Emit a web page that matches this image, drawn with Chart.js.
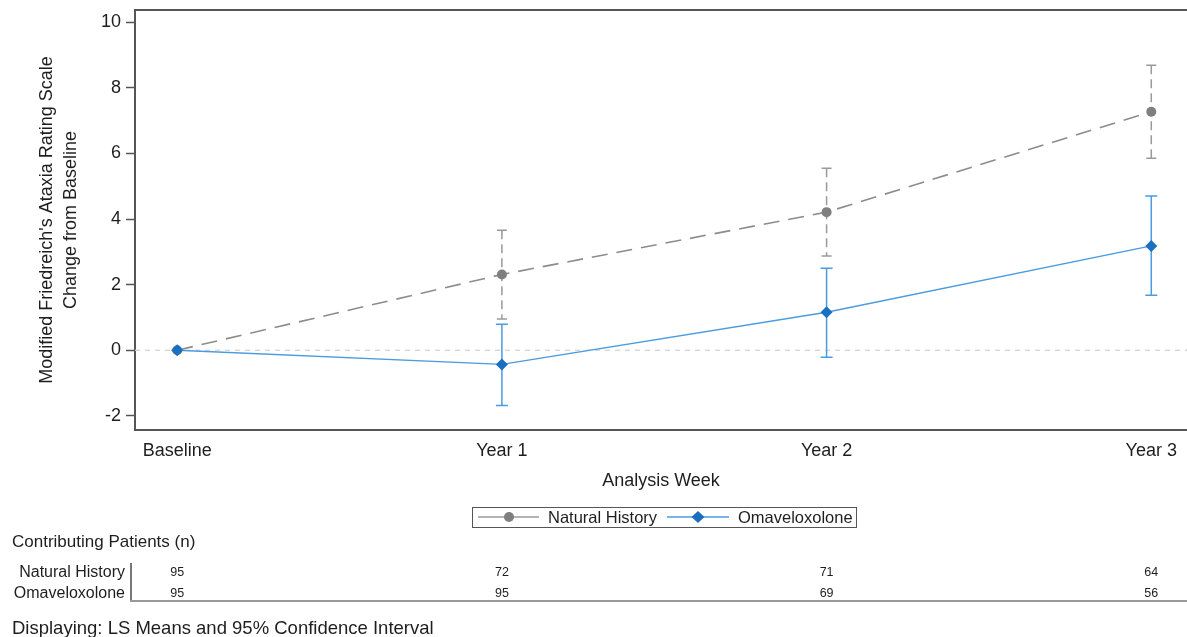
<!DOCTYPE html>
<html>
<head>
<meta charset="utf-8">
<script src="https://cdn.jsdelivr.net/npm/chart.js@4/dist/chart.umd.min.js"></script>
<style>
  html, body { margin: 0; padding: 0; background: #fff; }
  #wrap { position: relative; width: 1187px; height: 637px; font-family: 'Liberation Sans', Arial, sans-serif; color: #1e1e1e; }
  #c { position: absolute; left: 0; top: 0; }
  .abs { position: absolute; white-space: nowrap; }
  #legend { position: absolute; left: 472px; top: 507px; width: 385px; height: 21px; border: 1.5px solid #555; box-sizing: border-box; }
  #legend svg { position: absolute; top: 0; }
  #legend span { position: absolute; top: 0; font-size: 16.5px; line-height: 18px; color: #1e1e1e; }
  .num { position: absolute; font-size: 12.5px; transform: translateX(-50%); line-height: 14px; }
</style>
</head>
<body>
<div id="wrap">
  <canvas id="c" width="1187" height="637"></canvas>
  <div id="legend">
    <svg width="70" height="18" style="left:3px"><line x1="2" y1="9" x2="63" y2="9" stroke="#9a9a9a" stroke-width="1.3"/><circle cx="33" cy="9" r="5" fill="#7f7f7f"/></svg>
    <span style="left:75px">Natural History</span>
    <svg width="70" height="18" style="left:193px"><line x1="1" y1="9" x2="63" y2="9" stroke="#4a9be0" stroke-width="1.3"/><polygon points="32,3 38.5,9 32,15 25.5,9" fill="#1a6fc0"/></svg>
    <span style="left:265px">Omaveloxolone</span>
  </div>
  <div class="abs" style="left:12px; top:532px; font-size:17px;">Contributing Patients (n)</div>
  <div class="abs" style="left:0; width:125px; text-align:right; top:563px; font-size:16px;">Natural History</div>
  <div class="abs" style="left:0; width:125px; text-align:right; top:584px; font-size:16px;">Omaveloxolone</div>
  <div class="abs" style="left:130px; top:563px; width:1.5px; height:38px; background:#777;"></div>
  <div class="abs" style="left:130px; top:600px; width:1057px; height:2px; background:#999;"></div>
  <div id="nums"></div>
  <div class="abs" style="left:12px; top:617px; font-size:18.5px;">Displaying: LS Means and 95% Confidence Interval</div>
</div>
<script>
const categories = ['Baseline', 'Year 1', 'Year 2', 'Year 3'];
const yTickValues = [-2, 0, 2, 4, 6, 8, 10];

const naturalHistoryMean  = [0, 2.31, 4.21, 7.27];
const naturalHistoryLower = [null, 0.95, 2.87, 5.85];
const naturalHistoryUpper = [null, 3.66, 5.55, 8.69];

const omavMean  = [0, -0.43, 1.16, 3.18];
const omavLower = [null, -1.68, -0.21, 1.68];
const omavUpper = [null, 0.79, 2.50, 4.70];

const nNaturalHistory = [95, 72, 71, 64];
const nOmaveloxolone  = [95, 95, 69, 56];

const FONT = "'Liberation Sans', Arial, sans-serif";
const TXT = '#1e1e1e';
const GRAY = '#8c8c8c', GRAY_PT = '#7f7f7f', BLUE = '#4a9be0', BLUE_PT = '#1a6fc0';

const toXY = arr => arr.map((v, i) => ({ x: i, y: v }));

const errorBars = {
  id: 'errorBars',
  beforeDatasetsDraw(chart) {
    const { ctx, scales: { x, y }, chartArea } = chart;
    ctx.save();
    const y0 = y.getPixelForValue(0);
    ctx.strokeStyle = '#d4d4d4';
    ctx.lineWidth = 1.3;
    ctx.setLineDash([5, 5]);
    ctx.beginPath(); ctx.moveTo(chartArea.left, y0); ctx.lineTo(chartArea.right, y0); ctx.stroke();
    const sets = [
      { lo: naturalHistoryLower, hi: naturalHistoryUpper, color: '#9a9a9a', dash: [9, 5], cap: 5 },
      { lo: omavLower, hi: omavUpper, color: BLUE, dash: [], cap: 6 }
    ];
    sets.forEach(s => {
      ctx.strokeStyle = s.color;
      ctx.lineWidth = 1.5;
      s.lo.forEach((lo, i) => {
        if (lo === null) return;
        const px = x.getPixelForValue(i);
        const pl = y.getPixelForValue(lo), ph = y.getPixelForValue(s.hi[i]);
        ctx.setLineDash(s.dash);
        ctx.beginPath(); ctx.moveTo(px, ph); ctx.lineTo(px, pl); ctx.stroke();
        ctx.setLineDash([]);
        ctx.beginPath();
        ctx.moveTo(px - s.cap, ph); ctx.lineTo(px + s.cap, ph);
        ctx.moveTo(px - s.cap, pl); ctx.lineTo(px + s.cap, pl);
        ctx.stroke();
      });
    });
    ctx.restore();
  },
  afterDraw(chart) {
    const { ctx, chartArea } = chart;
    ctx.save();
    ctx.strokeStyle = '#555';
    ctx.lineWidth = 2;
    ctx.beginPath(); ctx.moveTo(chartArea.left - 1, chartArea.top); ctx.lineTo(chartArea.right, chartArea.top); ctx.stroke();
    ctx.restore();
  }
};

const chart = new Chart(document.getElementById('c'), {
  type: 'line',
  data: {
    datasets: [
      {
        label: 'Omaveloxolone',
        data: toXY(omavMean),
        borderColor: BLUE, borderWidth: 1.4,
        pointStyle: 'rectRot', pointRadius: 6, pointBackgroundColor: BLUE_PT, pointBorderColor: BLUE_PT, pointBorderWidth: 0,
        order: 0
      },
      {
        label: 'Natural History',
        data: toXY(naturalHistoryMean),
        borderColor: GRAY, borderWidth: 1.6, borderDash: [16, 9],
        pointStyle: 'circle', pointRadius: 5, pointBackgroundColor: GRAY_PT, pointBorderColor: GRAY_PT, pointBorderWidth: 0,
        order: 1
      }
    ]
  },
  options: {
    responsive: false,
    animation: false,
    devicePixelRatio: 1,
    layout: { autoPadding: false, padding: { left: 0, top: 10, right: 0, bottom: 145 } },
    plugins: { legend: { display: false }, tooltip: { enabled: false } },
    scales: {
      x: {
        type: 'linear', min: -0.13, max: 3.11,
        afterBuildTicks: s => { s.ticks = categories.map((c, i) => ({ value: i })); },
        afterFit: s => { s.height = 62; s.paddingLeft = 0; s.paddingRight = 0; },
        ticks: { callback: v => categories[v], font: { family: FONT, size: 18 }, color: TXT, padding: 10, maxRotation: 0, autoSkip: false },
        grid: { display: false, drawTicks: false },
        border: { display: true, color: '#555', width: 2 },
        title: { display: true, text: 'Analysis Week', font: { family: FONT, size: 18 }, color: TXT, padding: { top: 0, bottom: 0 } }
      },
      y: {
        min: -2.43, max: 10.37,
        afterBuildTicks: s => { s.ticks = yTickValues.map(v => ({ value: v })); },
        afterFit: s => { s.width = 135; s.paddingTop = 0; s.paddingBottom = 0; },
        ticks: { font: { family: FONT, size: 18 }, color: TXT, padding: 5 },
        grid: { drawOnChartArea: false, drawTicks: true, tickLength: 9, color: '#555', tickWidth: 1.5 },
        border: { display: true, color: '#555', width: 2 },
        title: { display: true, text: ["Modified Friedreich's Ataxia Rating Scale", 'Change from Baseline'], font: { family: FONT, size: 18, lineHeight: 1.28 }, color: TXT, padding: { top: 36, bottom: 0 } }
      }
    }
  },
  plugins: [errorBars]
});

const nums = document.getElementById('nums');
categories.forEach((c, i) => {
  const px = chart.scales.x.getPixelForValue(i);
  [[nNaturalHistory, 565], [nOmaveloxolone, 586]].forEach(([arr, top]) => {
    const d = document.createElement('div');
    d.className = 'num';
    d.style.left = px + 'px';
    d.style.top = top + 'px';
    d.textContent = arr[i];
    nums.appendChild(d);
  });
});
</script>
</body>
</html>
